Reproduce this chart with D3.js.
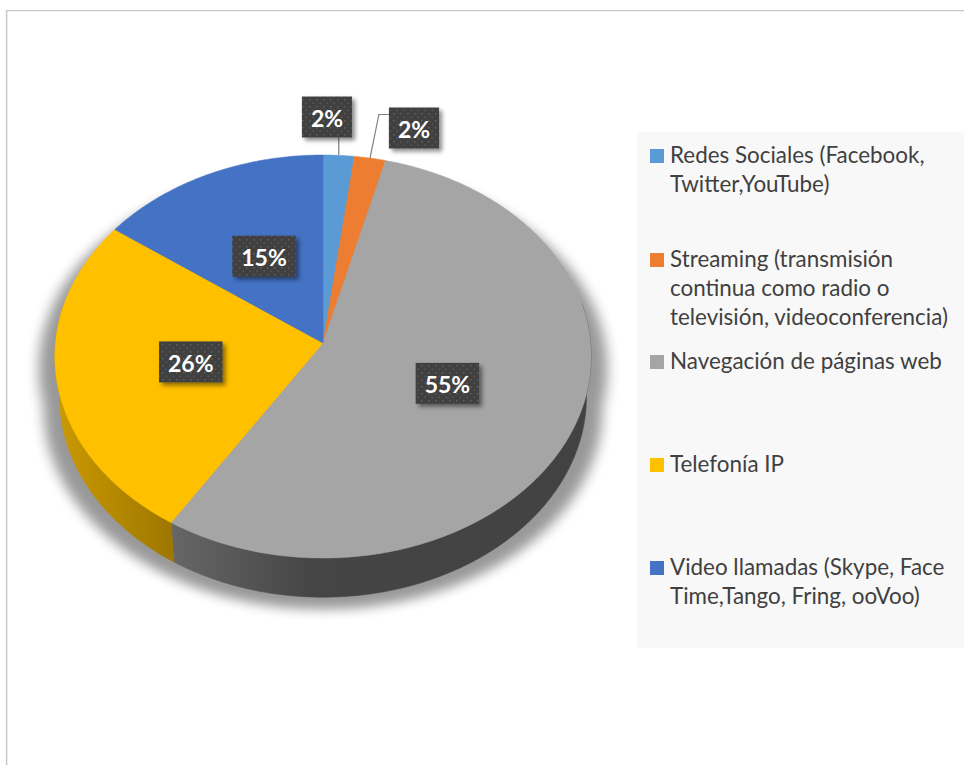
<!DOCTYPE html>
<html>
<head>
<meta charset="utf-8">
<script src="https://cdn.jsdelivr.net/npm/d3@7/dist/d3.min.js"></script>
<style>
  html, body { margin: 0; padding: 0; background: #ffffff; }
  svg { display: block; }
</style>
</head>
<body>
<svg id="chart" width="964" height="765"></svg>
<script>
// ---- data ----
const categories = [
  "Redes Sociales (Facebook, Twitter,YouTube)",
  "Streaming (transmisión continua como radio o televisión, videoconferencia)",
  "Navegación de páginas web",
  "Telefonía IP",
  "Video llamadas (Skype, Face Time,Tango, Fring, ooVoo)"
];
const legendLines = [
  ["Redes Sociales (Facebook,", "Twitter,YouTube)"],
  ["Streaming (transmisión", "continua como radio o", "televisión, videoconferencia)"],
  ["Navegación de páginas web"],
  ["Telefonía IP"],
  ["Video llamadas (Skype, Face", "Time,Tango, Fring, ooVoo)"]
];
const values = [2, 2, 55, 26, 15];
const colors = ["#5B9BD5", "#ED7D31", "#A5A5A5", "#FFC000", "#4472C4"];

// ---- layout ----
const W = 964, H = 765;
const svg = d3.select("#chart");
const defs = svg.append("defs");

// tilted disc seen in perspective
const cx = 323, cy = 343;
const focal = 2638, R = 0.1014, depthH = 0.0235;
const tilt = Math.asin(0.75);
function project(theta, r, y) {
  const X = r * R * Math.sin(theta);
  const Z = -r * R * Math.cos(theta);
  const depth = 1 - y * Math.sin(tilt) - Z * Math.cos(tilt);
  const up = y * Math.cos(tilt) - Z * Math.sin(tilt);
  return [cx + focal * X / depth, cy - focal * up / depth];
}
function arcPoints(a0, a1, r, y) {
  const n = Math.max(2, Math.ceil(Math.abs(a1 - a0) / (Math.PI / 360)));
  return d3.range(n + 1).map(i => project(a0 + (a1 - a0) * i / n, r, y));
}
const line = d3.line().curve(d3.curveLinear);

const pie = d3.pie().sort(null).value(d => d);
const arcs = pie(values);
const total = d3.sum(values);
const pct = d3.format(".0%");

// ---- chart frame ----
svg.append("path")
  .attr("d", `M6.6,${H} V10.6 H${W}`)
  .attr("fill", "none")
  .attr("stroke", "#c6c6c6")
  .attr("stroke-width", 1.4);

// ---- legend panel ----
svg.append("rect")
  .attr("x", 637).attr("y", 132)
  .attr("width", W - 637).attr("height", 516)
  .attr("fill", "#f8f8f8");

// ---- pie shadow ----
const blur = defs.append("filter").attr("id", "pieShadow")
  .attr("x", "-20%").attr("y", "-20%").attr("width", "140%").attr("height", "140%");
blur.append("feGaussianBlur").attr("stdDeviation", 6);

const TAU = 2 * Math.PI;
const silhouette = arcPoints(0, TAU, 1, 0);
const silhouetteLow = arcPoints(0, TAU, 1, -depthH);
svg.append("g")
  .attr("filter", "url(#pieShadow)")
  .attr("opacity", 0.4)
  .attr("transform", `translate(${cx},${cy + 12}) scale(1.06,1.0) translate(${-cx},${-cy})`)
  .call(g => {
    g.append("path").attr("d", line(silhouette) + "Z").attr("fill", "#000");
    g.append("path").attr("d", line(silhouetteLow) + "Z").attr("fill", "#000");
    g.append("path")
      .attr("d", line(arcPoints(Math.PI / 2, 3 * Math.PI / 2, 1, 0)
        .concat(arcPoints(3 * Math.PI / 2, Math.PI / 2, 1, -depthH))) + "Z")
      .attr("fill", "#000");
  });

// ---- outer wall (front half) ----
function shade(hex, k) {
  const c = d3.rgb(hex);
  return d3.rgb(c.r * k, c.g * k, c.b * k).formatHex();
}
arcs.forEach((a, i) => {
  const g = defs.append("linearGradient").attr("id", "wall" + i)
    .attr("gradientUnits", "userSpaceOnUse")
    .attr("x1", 55).attr("y1", 0).attr("x2", 590).attr("y2", 0);
  [[0, 0.80], [0.22, 0.62], [0.48, 0.42], [1, 0.40]].forEach(([o, k]) =>
    g.append("stop").attr("offset", o).attr("stop-color", shade(colors[i], k)));
});
const wallFrom = Math.PI / 2 - 0.2, wallTo = 3 * Math.PI / 2 + 0.2;
svg.append("g").selectAll("path")
  .data(arcs.filter(a => a.endAngle > wallFrom && a.startAngle < wallTo))
  .join("path")
  .attr("d", a => {
    const s = Math.max(a.startAngle, wallFrom), e = Math.min(a.endAngle, wallTo);
    return line(arcPoints(s, e, 1, 0).concat(arcPoints(e, s, 1, -depthH))) + "Z";
  })
  .attr("fill", a => `url(#wall${a.index})`)
  .attr("stroke", a => `url(#wall${a.index})`)
  .attr("stroke-width", 0.6);

// ---- top face ----
svg.append("g").selectAll("path")
  .data(arcs)
  .join("path")
  .attr("d", a => line([[cx, cy]].concat(arcPoints(a.startAngle, a.endAngle, 1, 0))) + "Z")
  .attr("fill", a => colors[a.index])
  .attr("stroke", a => colors[a.index])
  .attr("stroke-width", 0.5);

// ---- data labels ----
const dots = defs.append("pattern").attr("id", "dots")
  .attr("patternUnits", "userSpaceOnUse").attr("width", 7).attr("height", 7);
dots.append("rect").attr("width", 7).attr("height", 7).attr("fill", "#404040");
dots.append("rect").attr("x", 1).attr("y", 1).attr("width", 1.6).attr("height", 1.6).attr("fill", "#5c5c5c");
dots.append("rect").attr("x", 4.5).attr("y", 4.5).attr("width", 1.6).attr("height", 1.6).attr("fill", "#565656");

const boxShadow = defs.append("filter").attr("id", "boxShadow")
  .attr("x", "-30%").attr("y", "-30%").attr("width", "170%").attr("height", "170%");
boxShadow.append("feDropShadow")
  .attr("dx", 3).attr("dy", 3).attr("stdDeviation", 2.2)
  .attr("flood-color", "#000").attr("flood-opacity", 0.45);

// small slices get their label outside with a leader line
const outside = {
  0: { pos: [327, 117], route: (edge, box) => [edge, [edge[0], box.y + box.h]] },
  1: { pos: [414, 128], route: (edge, box) => [edge, [box.x - 10, box.y + 7], [box.x, box.y + 7]] }
};

const labelG = svg.append("g");
arcs.forEach(a => {
  const mid = (a.startAngle + a.endAngle) / 2;
  const text = pct(a.data / total);
  const out = outside[a.index];
  const pos = out ? out.pos : project(mid, 0.5, 0);
  const g = labelG.append("g");
  const t = g.append("text")
    .attr("x", pos[0]).attr("y", pos[1] + 1)
    .attr("text-anchor", "middle").attr("dominant-baseline", "central")
    .attr("font-family", "Lato, 'Open Sans', sans-serif")
    .attr("font-weight", 700).attr("font-size", 23)
    .attr("fill", "#ffffff")
    .text(text);
  const tw = t.node().getComputedTextLength();
  const box = { x: pos[0] - tw / 2 - 9, y: pos[1] - 20.5, w: tw + 18, h: 41 };
  if (out) {
    const edge = project(mid, 1, 0);
    labelG.insert("path", ":first-child")
      .attr("d", line(out.route(edge, box)))
      .attr("fill", "none").attr("stroke", "#7f7f7f").attr("stroke-width", 1.2);
  }
  g.insert("rect", "text")
    .attr("x", box.x).attr("y", box.y).attr("width", box.w).attr("height", box.h)
    .attr("fill", "url(#dots)")
    .attr("filter", "url(#boxShadow)");
});

// ---- legend ----
const legend = svg.append("g").attr("font-family", "Lato, 'Open Sans', sans-serif").attr("fill", "#404040");
// fit the widest line into the panel
const probe = legend.append("text").attr("font-size", 20).text("televisión, videoconferencia)");
const fs = 20 * 278 / probe.node().getComputedTextLength();
probe.remove();

const rowBase = [163, 267, 369, 472, 575];
const lineStep = 29;
legendLines.forEach((lines, i) => {
  legend.append("rect")
    .attr("x", 650).attr("y", rowBase[i] - 14).attr("width", 14).attr("height", 14)
    .attr("fill", colors[i]);
  const t = legend.append("text").attr("font-size", fs);
  lines.forEach((s, j) => {
    t.append("tspan").attr("x", 670).attr("y", rowBase[i] + j * lineStep).text(s);
  });
});
</script>
</body>
</html>
